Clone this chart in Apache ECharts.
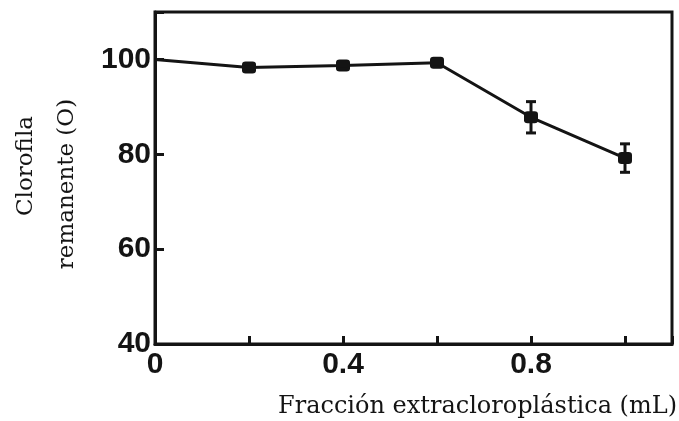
<!DOCTYPE html>
<html><head><meta charset="utf-8">
<script src="https://cdn.jsdelivr.net/npm/echarts@6/dist/echarts.min.js"></script>
<style>html,body{margin:0;padding:0;background:#fff}#c{width:679px;height:421px}</style>
</head><body><div id="c"></div>
<script>
var xValues = [0, 0.2, 0.4, 0.6, 0.8, 1.0];
var yValues = [100, 98.3, 98.7, 99.3, 87.8, 79.2];
var yErrors = [0, 0.8, 0.8, 0.8, 3.3, 3.0];
var xTickLabels = ['0', '0.4', '0.8'];
var yTickLabels = ['40', '60', '80', '100'];

var lineData = xValues.map(function (x, i) {
  var d = { value: [x, yValues[i]] };
  if (i === 0) d.symbol = 'none';
  return d;
});
var errData = xValues.map(function (x, i) { return [x, yValues[i] - yErrors[i], yValues[i] + yErrors[i]]; })
  .filter(function (d, i) { return yErrors[i] > 0; });

var ink = '#141414';
var chart = echarts.init(document.getElementById('c'));
chart.setOption({
  animation: false,
  grid: { left: 155, right: 7, top: 12, bottom: 77, show: true, borderColor: ink, borderWidth: 3, backgroundColor: 'transparent' },
  xAxis: {
    type: 'value', min: 0, max: 1.1, interval: 0.2,
    axisLine: { lineStyle: { color: ink, width: 3 } },
    axisTick: { inside: true, length: 8, lineStyle: { color: ink, width: 3 } },
    splitLine: { show: false },
    axisLabel: {
      margin: 6, color: ink, fontFamily: 'Liberation Sans', fontWeight: 'bold', fontSize: 30,
      formatter: function (v) { var s = String(Math.round(v * 10) / 10); return xTickLabels.indexOf(s) >= 0 ? s : ''; }
    }
  },
  yAxis: {
    type: 'value', min: 40, max: 110, interval: 20,
    axisLine: { lineStyle: { color: ink, width: 3 } },
    axisTick: { inside: true, length: 9, lineStyle: { color: ink, width: 3 } },
    splitLine: { show: false },
    axisLabel: {
      margin: 4, color: ink, fontFamily: 'Liberation Sans', fontWeight: 'bold', fontSize: 30,
      formatter: function (v) { var s = String(v); return yTickLabels.indexOf(s) >= 0 ? s : ''; }
    }
  },
  graphic: [
    { type: 'text', x: 26, y: 166, rotation: Math.PI / 2,
      style: { text: 'Clorofila', font: '23px "DejaVu Serif"', fill: ink, textAlign: 'center', textVerticalAlign: 'middle' } },
    { type: 'text', x: 67, y: 184, rotation: Math.PI / 2,
      style: { text: 'remanente (O)', font: '23px "DejaVu Serif"', fill: ink, textAlign: 'center', textVerticalAlign: 'middle' } },
    { type: 'text', x: 677, y: 407,
      style: { text: 'Fracción extracloroplástica (mL)', font: '24px "DejaVu Serif"', fill: ink, textAlign: 'right', textVerticalAlign: 'middle' } }
  ],
  series: [
    {
      type: 'line', data: lineData, symbol: 'roundRect', symbolSize: [14, 12],
      lineStyle: { color: ink, width: 3 }, itemStyle: { color: ink }, z: 3
    },
    {
      type: 'custom', data: errData, z: 4,
      renderItem: function (params, api) {
        var x = api.value(0);
        var lo = api.coord([x, api.value(1)]);
        var hi = api.coord([x, api.value(2)]);
        var cw = 5;
        var st = { stroke: ink, lineWidth: 3 };
        return { type: 'group', children: [
          { type: 'line', shape: { x1: lo[0], y1: lo[1], x2: hi[0], y2: hi[1] }, style: st },
          { type: 'line', shape: { x1: lo[0] - cw, y1: lo[1], x2: lo[0] + cw, y2: lo[1] }, style: st },
          { type: 'line', shape: { x1: hi[0] - cw, y1: hi[1], x2: hi[0] + cw, y2: hi[1] }, style: st }
        ] };
      }
    }
  ]
});
</script></body></html>
